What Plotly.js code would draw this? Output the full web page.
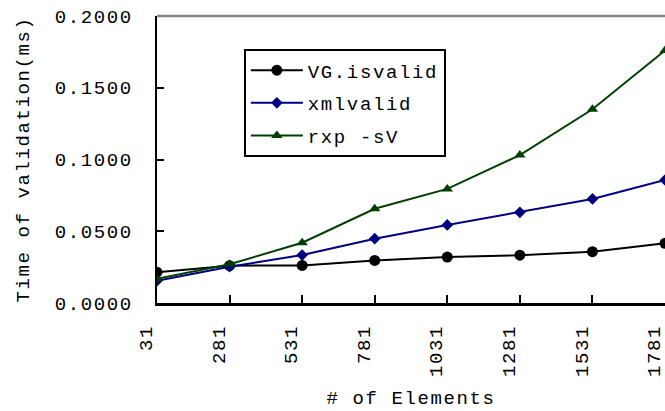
<!DOCTYPE html>
<html>
<head>
<meta charset="utf-8">
<script src="https://cdn.plot.ly/plotly-3.0.1.min.js"></script>
<style>
html,body{margin:0;padding:0;background:#fff;}
svg text{letter-spacing:1.6px;}
</style>
</head>
<body>
<div id="chart" style="width:665px;height:411px;"></div>
<script>
const elements = [31, 281, 531, 781, 1031, 1281, 1531, 1781];
const tickLabels = ["31", "281", "531", "781", "1031", "1281", "1531", "1781"];
const vgIsvalid = [0.0215, 0.0260, 0.0262, 0.0297, 0.0320, 0.0333, 0.0358, 0.0416];
const xmlvalid = [0.0155, 0.0253, 0.0334, 0.0448, 0.0544, 0.0632, 0.0725, 0.0857];
const rxpSV = [0.0168, 0.0270, 0.0420, 0.0657, 0.0795, 0.1031, 0.1350, 0.1760];

const FONT = "Liberation Mono, Courier New, monospace";
const FS = 19;

const traces = [
  {x: elements, y: vgIsvalid, name: "VG.isvalid", mode: "lines+markers", legendgroup: "a",
   line: {color: "#000000", width: 2}, marker: {symbol: "circle", size: 11, color: "#000000"}},
  {x: elements, y: xmlvalid, name: "xmlvalid", mode: "lines+markers", legendgroup: "b",
   line: {color: "#000080", width: 2}, marker: {symbol: "diamond", size: 9, color: "#000080"}},
  {x: elements, y: rxpSV, name: "rxp -sV", mode: "lines+markers", legendgroup: "c",
   line: {color: "#003F00", width: 2}, marker: {symbol: "triangle-up", size: 10, color: "#003F00"}}
];

const layout = {
  width: 665, height: 411,
  margin: {l: 157, r: 0, t: 16, b: 108},
  paper_bgcolor: "#fff", plot_bgcolor: "#fff",
  font: {family: FONT, size: FS, color: "#000"},
  showlegend: true,
  legend: {
    x: 0.171, y: 0.884, xanchor: "left", yanchor: "top",
    bordercolor: "#000", borderwidth: 2, bgcolor: "#fff",
    font: {family: FONT, size: FS, color: "#000"},
    itemwidth: 52, tracegroupgap: 5, traceorder: "grouped"
  },
  xaxis: {
    range: [31, 1781], tickvals: elements, ticktext: tickLabels,
    tickangle: -90, ticks: "inside", ticklen: 8, tickwidth: 2, tickcolor: "#000",
    showline: true, linecolor: "#000", linewidth: 2.5, showgrid: false, zeroline: false,
    tickfont: {family: FONT, size: FS, color: "#000"}, ticklabelstandoff: 12,
    ticklabelshift: -11, ticklabeloverflow: "allow",
    title: {text: "# of Elements", font: {family: FONT, size: FS, color: "#000"}, standoff: 15}
  },
  yaxis: {
    range: [0, 0.2], tickvals: [0, 0.05, 0.1, 0.15, 0.2], tickformat: ".4f",
    ticks: "inside", ticklen: 7, tickwidth: 2, tickcolor: "#000",
    showline: true, linecolor: "#000", linewidth: 2.5, showgrid: false, zeroline: false,
    tickfont: {family: FONT, size: FS, color: "#000"}, ticklabelstandoff: 18,
    title: {text: "Time of validation(ms)", font: {family: FONT, size: FS, color: "#000"}, standoff: 20}
  },
  shapes: [
    {type: "line", xref: "paper", yref: "paper", x0: 0, x1: 1, y0: 1, y1: 1,
     line: {color: "#888888", width: 2.5}}
  ]
};

Plotly.newPlot("chart", traces, layout, {displayModeBar: false, staticPlot: true});
</script>
</body>
</html>
